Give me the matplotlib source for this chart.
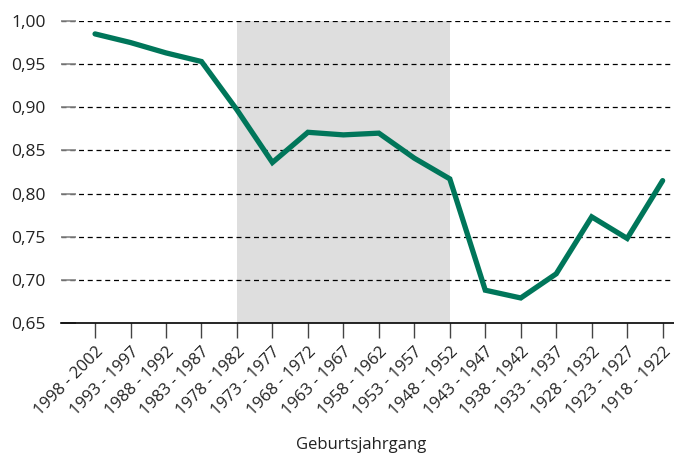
import matplotlib
matplotlib.use("Agg")
import matplotlib.pyplot as plt
import numpy as np

plt.rcParams['font.family'] = ['Open Sans', 'DejaVu Sans']

# Geburtsjahrgang (youngest to oldest)
cohorts = ["1998 - 2002", "1993 - 1997", "1988 - 1992", "1983 - 1987", "1978 - 1982",
           "1973 - 1977", "1968 - 1972", "1963 - 1967", "1958 - 1962", "1953 - 1957",
           "1948 - 1952", "1943 - 1947", "1938 - 1942", "1933 - 1937", "1928 - 1932",
           "1923 - 1927", "1918 - 1922"]
values = [0.985, 0.975, 0.963, 0.953, 0.897, 0.836, 0.871, 0.868, 0.870, 0.841,
          0.817, 0.688, 0.679, 0.707, 0.773, 0.748, 0.815]
shade_from = "1978 - 1982"
shade_to = "1948 - 1952"
yticks = [0.65, 0.70, 0.75, 0.80, 0.85, 0.90, 0.95, 1.00]

fig = plt.figure(figsize=(6.74, 4.53), dpi=100)
ax = fig.add_axes([0.0905, 0.287, 0.9095, 0.6667])

x = np.arange(len(cohorts))
ax.axvspan(cohorts.index(shade_from), cohorts.index(shade_to), color="#dedede", lw=0, zorder=0)

for yv in yticks[1:]:
    ax.axhline(yv, color="black", lw=0.9, ls=(0, (4, 3)), zorder=1)

ax.plot(x, values, color="#00765a", lw=3.8, solid_joinstyle="miter", solid_capstyle="round", zorder=3)

ax.set_xlim(-0.96, 16.32)
ax.set_ylim(0.65, 1.0)
ax.set_yticks(yticks)
ax.set_yticklabels([f"{v:.2f}".replace(".", ",") for v in yticks], fontsize=12.5, color="#222222")
ax.tick_params(axis="y", direction="in", length=11, width=1.2, color="#888888", pad=11)
ax.set_xticks(x)
ax.set_xticklabels(cohorts, rotation=45, ha="right", rotation_mode="anchor", fontsize=12, color="#222222")
ax.tick_params(axis="x", direction="out", length=11, width=1.0, color="#444444", pad=4)

for s in ["top", "right", "left"]:
    ax.spines[s].set_visible(False)
ax.spines["bottom"].set_linewidth(1.2)

ax.set_xlabel("Geburtsjahrgang", fontsize=12, color="#222222", va="center")
ax.xaxis.set_label_coords(0.49, -0.405)

fig.savefig("out.png", dpi=100)
